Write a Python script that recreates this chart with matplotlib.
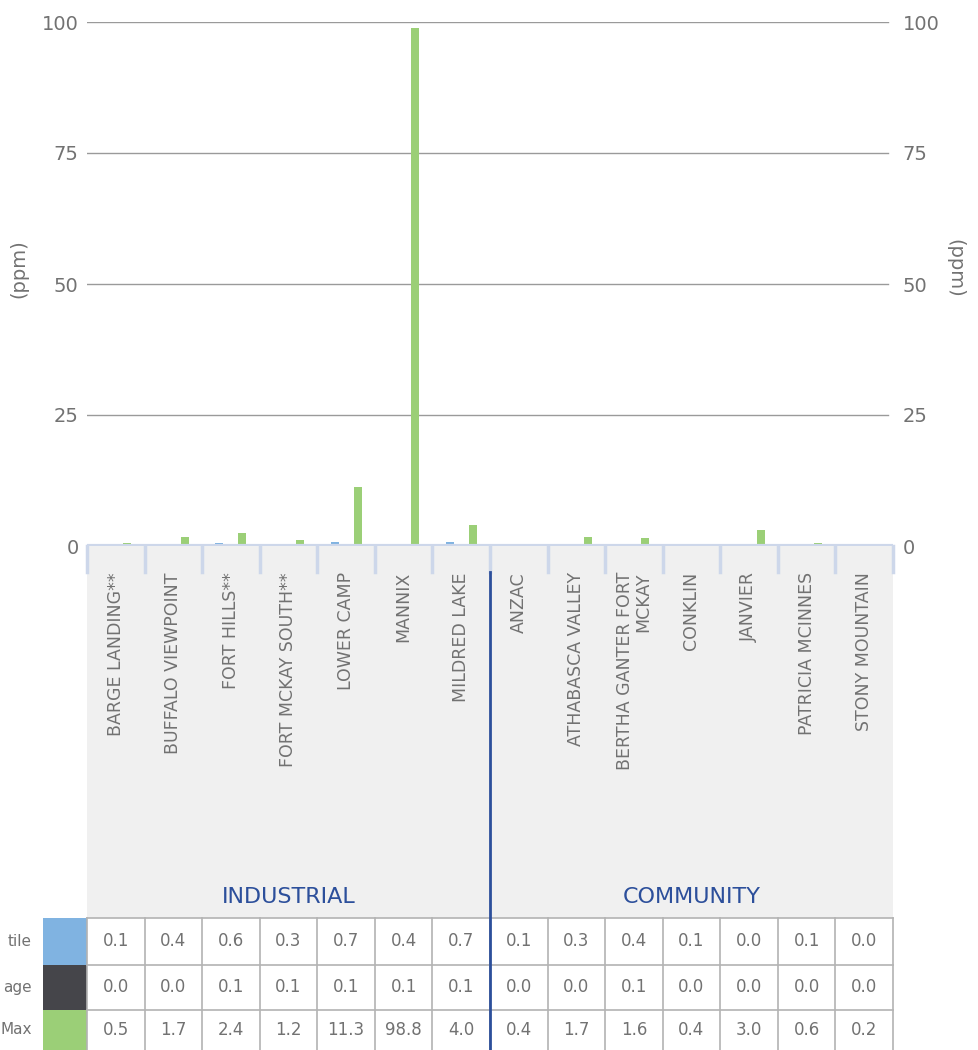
import matplotlib.pyplot as plt
from matplotlib.patches import Rectangle
from matplotlib.transforms import blended_transform_factory

# Datos
estaciones = ["BARGE LANDING**", "BUFFALO VIEWPOINT", "FORT HILLS**", "FORT MCKAY SOUTH**",
              "LOWER CAMP", "MANNIX", "MILDRED LAKE", "ANZAC", "ATHABASCA VALLEY",
              "BERTHA GANTER FORT\nMCKAY", "CONKLIN", "JANVIER", "PATRICIA MCINNES",
              "STONY MOUNTAIN"]
percentil = [0.1, 0.4, 0.6, 0.3, 0.7, 0.4, 0.7, 0.1, 0.3, 0.4, 0.1, 0.0, 0.1, 0.0]
promedio = [0.0, 0.0, 0.1, 0.1, 0.1, 0.1, 0.1, 0.0, 0.0, 0.1, 0.0, 0.0, 0.0, 0.0]
maximo = [0.5, 1.7, 2.4, 1.2, 11.3, 98.8, 4.0, 0.4, 1.7, 1.6, 0.4, 3.0, 0.6, 0.2]
grupos = ["INDUSTRIAL", "COMMUNITY"]
n_industrial = 7
# etiquetas de fila (recortadas en el original)
filas = ["tile", "age", "Max"]
colores = ["#80b3e1", "#45454a", "#9bcf77"]
yticks = [0, 25, 50, 75, 100]

W, H = 979, 1050
gris = "#727272"
azul_oscuro = "#2c4f9b"
azul_claro = "#cdd7ea"
plt.rcParams["font.family"] = ["DejaVu Sans"]

fig = plt.figure(figsize=(W / 100, H / 100), dpi=100)

# capa de fondo en pixeles
ov = fig.add_axes([0, 0, 1, 1], zorder=0)
ov.set_xlim(0, W)
ov.set_ylim(H, 0)
ov.axis("off")

# grafico principal
ax = fig.add_axes([87 / W, (H - 546) / H, 806 / W, 524 / H], zorder=1)
ax.patch.set_alpha(0)
n = len(estaciones)
x = [i + 0.5 for i in range(n)]
ancho = 0.14
ax.bar([v - 0.2 for v in x], percentil, ancho, color=colores[0], zorder=3)
ax.bar(x, promedio, ancho, color=colores[1], zorder=3)
ax.bar([v + 0.2 for v in x], maximo, ancho, color=colores[2], zorder=3)
ax.set_xlim(0, n)
ax.set_ylim(0, 100)
for t in yticks[1:]:
    ax.axhline(t, xmin=0, xmax=0.994, color="#9a9a9a", lw=1, zorder=1)
ax.axhline(0, color=azul_claro, lw=3, zorder=4)
for s in ax.spines.values():
    s.set_visible(False)
ax.set_xticks([])
ax.set_yticks(yticks)
ax.tick_params(axis="y", length=0, pad=6, labelsize=14, labelcolor=gris)
ax2 = ax.twinx()
ax2.set_ylim(0, 100)
ax2.set_yticks(yticks)
ax2.tick_params(axis="y", length=0, pad=7, labelsize=14, labelcolor=gris)
for s in ax2.spines.values():
    s.set_visible(False)
ax.set_ylabel("(ppm)", fontsize=14, color=gris)
ax.yaxis.set_label_coords((28 - 87) / 806, 0.53)
ax2.set_ylabel("(ppm)", fontsize=14, color=gris, rotation=270, va="center")
ax2.yaxis.set_label_coords((955 - 87) / 806, 0.53)

tr = blended_transform_factory(ax.transData, ov.transData)

# panel gris y separadores
ov.add_patch(Rectangle((0, 546), n, 372, transform=tr, facecolor="#f0f0f0", edgecolor="none", zorder=0))
for i in range(n + 1):
    ov.plot([i, i], [546, 572], transform=tr, color=azul_claro, lw=2.5, zorder=2)

# etiquetas de estaciones
for i, nombre in enumerate(estaciones):
    ov.text(x[i], 572, nombre, transform=tr, rotation=90, ha="center", va="top",
            multialignment="right", fontsize=12.5, color=gris, zorder=3, linespacing=1.0)

# grupos
ov.text(n_industrial / 2, 897, grupos[0], transform=tr, ha="center", va="center",
        fontsize=16, color=azul_oscuro)
ov.text(n_industrial + (n - n_industrial) / 2, 897, grupos[1], transform=tr, ha="center",
        va="center", fontsize=16, color=azul_oscuro)

# tabla
bordes = [918, 965, 1010, 1050]
valores = [percentil, promedio, maximo]
for r in range(3):
    y0, y1 = bordes[r], bordes[r + 1]
    yc = (y0 + y1) / 2
    ov.add_patch(Rectangle((43, y0), 44, y1 - y0, facecolor=colores[r], edgecolor="none", zorder=1))
    ov.text(32, yc, filas[r], ha="right", va="center", fontsize=11, color=gris)
    for i in range(n):
        ov.text(x[i], yc, f"{valores[r][i]:.1f}", transform=tr, ha="center", va="center",
                fontsize=12, color=gris)
for y in bordes[:-1]:
    ov.plot([0, n], [y, y], transform=tr, color="#b3b3b3", lw=1.2, zorder=2)
for i in range(n + 1):
    ov.plot([i, i], [918, 1050], transform=tr, color="#b3b3b3", lw=1.2, zorder=2)

# linea divisoria industrial / comunidad
ov.plot([n_industrial, n_industrial], [572, 1050], transform=tr, color=azul_oscuro, lw=2, zorder=4)

fig.savefig("out.png", dpi=100)
